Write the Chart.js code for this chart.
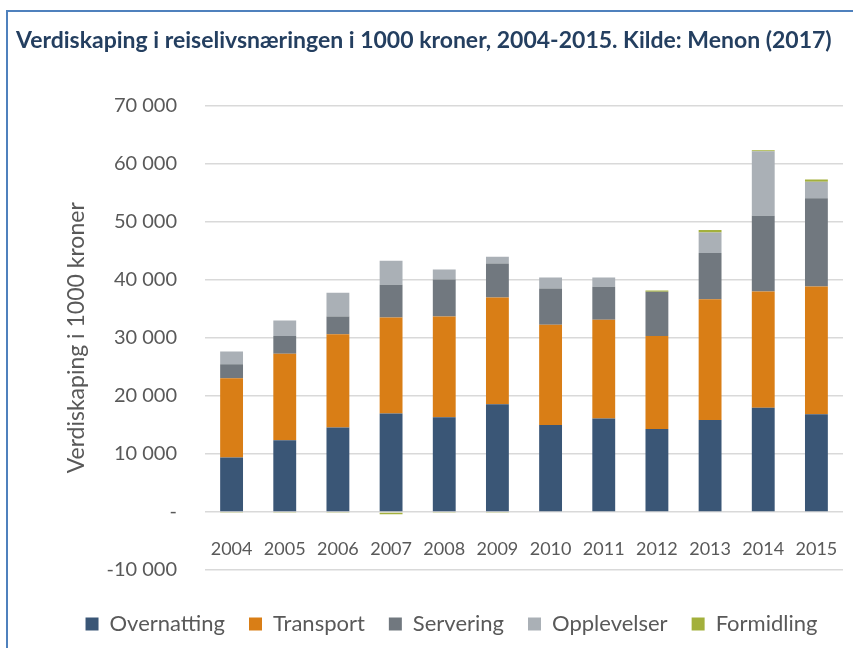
<!DOCTYPE html>
<html>
<head>
<meta charset="utf-8">
<script src="https://cdn.jsdelivr.net/npm/chart.js@4"></script>
<style>
  html, body { margin: 0; padding: 0; background: #fff; overflow: hidden; }
  #frame {
    position: absolute; left: 6px; top: 10px; width: 900px; height: 700px;
    border-left: 2px solid #4f81bd; border-top: 2px solid #4f81bd;
  }
  #wrap { position: absolute; left: 8px; top: 12px; width: 890px; height: 636px; }
</style>
</head>
<body>
<div id="frame"></div>
<div id="wrap"><canvas id="chart"></canvas></div>
<script>
// ================== Data ==================
const years = ['2004','2005','2006','2007','2008','2009','2010','2011','2012','2013','2014','2015'];
const overnatting = [9360, 12360, 14540, 16950, 16320, 18560, 15000, 16090, 14310, 15860, 17930, 16840];
const transport   = [13690, 14880, 16090, 16550, 17350, 18390, 17240, 17010, 15980, 20800, 20050, 22000];
const servering   = [2410, 3050, 3040, 5640, 6380, 5860, 6260, 5690, 7640, 7940, 13050, 15180];
const opplevelser = [2180, 2700, 4090, 4130, 1720, 1160, 1900, 1610, 0, 3550, 11090, 2880];
const formidling  = [-100, -100, -100, -400, -100, -100, -150, 0, 200, 400, 200, 350];
const yTicks = [-10000, 0, 10000, 20000, 30000, 40000, 50000, 60000, 70000];

const grey = '#595959';
const fontFam = 'Lato, "Open Sans", sans-serif';

function fmt(v) {
  if (v === 0) return '-';
  const s = Math.abs(v).toString().replace(/\B(?=(\d{3})+(?!\d))/g, ' ');
  return (v < 0 ? '-' : '') + s;
}

function ds(label, data, color) {
  return { label: label, data: data, backgroundColor: color, borderWidth: 0, barPercentage: 0.43, categoryPercentage: 1 };
}

new Chart(document.getElementById('chart'), {
  type: 'bar',
  data: {
    labels: years,
    datasets: [
      ds('Overnatting', overnatting, '#3a5676'),
      ds('Transport', transport, '#d97e16'),
      ds('Servering', servering, '#71787f'),
      ds('Opplevelser', opplevelser, '#aab0b6'),
      ds('Formidling', formidling, '#a3b03c')
    ]
  },
  options: {
    responsive: true,
    maintainAspectRatio: false,
    animation: false,
    layout: { padding: { left: 8, right: 11, bottom: 3 } },
    plugins: {
      title: {
        display: true,
        text: 'Verdiskaping i reiselivsnæringen i 1000 kroner, 2004-2015. Kilde: Menon (2017)',
        align: 'start',
        color: '#243f60',
        font: { family: fontFam, size: 23, weight: 'bold' },
        padding: { top: 15, bottom: 51 }
      },
      legend: {
        position: 'bottom',
        title: { display: true, text: '', font: { size: 10 }, padding: { top: 7, bottom: 0 } },
        labels: {
          color: grey,
          boxWidth: 13,
          boxHeight: 13,
          padding: 24,
          font: { family: fontFam, size: 22 }
        }
      },
      tooltip: { enabled: false }
    },
    scales: {
      x: {
        stacked: true,
        position: { y: 0 },
        grid: { display: false },
        border: { display: false },
        ticks: { color: grey, padding: 18, maxRotation: 0, minRotation: 0, autoSkip: false, font: { family: fontFam, size: 18 } }
      },
      y: {
        stacked: true,
        min: -10000,
        max: 70000,
        afterBuildTicks: function (scale) { scale.ticks = yTicks.map(v => ({ value: v })); },
        afterFit: function (scale) { scale.width = 189; },
        grid: { color: '#d9d9d9', lineWidth: 1.5, drawTicks: false },
        border: { display: false },
        ticks: { color: grey, padding: 28, font: { family: fontFam, size: 20 }, callback: v => fmt(v) },
        title: {
          display: true,
          text: 'Verdiskaping i 1000 kroner',
          color: grey,
          font: { family: fontFam, size: 23 },
          padding: { top: 47, bottom: 0 }
        }
      },
      // empty spacer on the right so the legend centres like the original
      spacer: {
        position: 'right',
        grid: { display: false },
        border: { display: false },
        ticks: { display: false },
        afterFit: function (scale) { scale.width = 44; }
      }
    }
  }
});
</script>
</body>
</html>
